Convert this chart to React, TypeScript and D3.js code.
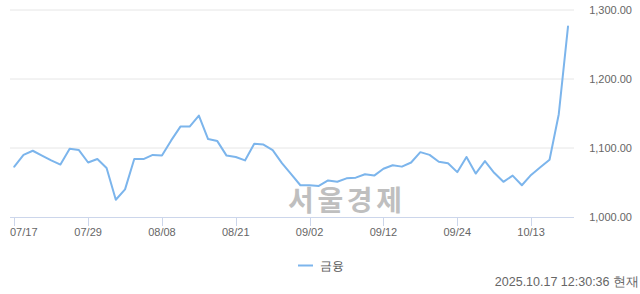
import React from "react";
import * as d3 from "d3";

const dates = [
  "07/17","07/18","07/21","07/22","07/23","07/24","07/25","07/28","07/29","07/30",
  "07/31","08/01","08/04","08/05","08/06","08/07","08/08","08/11","08/12","08/13",
  "08/14","08/18","08/19","08/20","08/21","08/22","08/25","08/26","08/27","08/28",
  "08/29","09/01","09/02","09/03","09/04","09/05","09/08","09/09","09/10","09/11",
  "09/12","09/15","09/16","09/17","09/18","09/19","09/22","09/23","09/24","09/25",
  "09/26","09/29","09/30","10/01","10/02","10/10","10/13","10/14","10/15","10/16","10/17",
];
const values = [
  1073,1090,1096,1089,1082,1076,1099,1097,1079,1084,
  1071,1025,1040,1084,1084,1090,1089,1111,1131,1131,
  1147,1113,1110,1089,1087,1082,1106,1105,1097,1078,
  1062,1046,1046,1045,1053,1051,1056,1057,1062,1060,
  1070,1075,1073,1079,1094,1090,1080,1078,1065,1087,
  1063,1081,1064,1051,1060,1046,1061,1072,1083,1149,1276,
];
const xTickLabels = ["07/17","07/29","08/08","08/21","09/02","09/12","09/24","10/13"];
const yTicks = [1000, 1100, 1200, 1300];
const seriesName = "금융";
const timestamp = "2025.10.17 12:30:36 현재";
const watermark = "서울경제";

export default function App() {
  const W = 640, H = 294;
  const left = 10, right = 574, top = 10, bottom = 217;
  const x = d3.scaleLinear().domain([0, dates.length - 1]).range([14.3, 568]);
  const y = d3.scaleLinear().domain([1000, 1300]).range([bottom, top]);
  const line = d3.line<number>().x((_, i) => x(i)).y((d) => y(d));
  const fmt = d3.format(",.2f");
  const font = "'Liberation Sans', Arial, sans-serif";
  return (
    <svg width={W} height={H} style={{ position: "absolute", left: 0, top: 0 }} fontFamily={font}>
      <rect width={W} height={H} fill="#fff" />
      {yTicks.map((t) => (
        <g key={t}>
          {t !== 1000 && (
            <line x1={left} x2={right} y1={y(t)} y2={y(t)} stroke="#e6e6e6" strokeWidth={1} />
          )}
          <text x={632} y={y(t)} dy="0.35em" textAnchor="end" fontSize={11} fill="#666">
            {fmt(t)}
          </text>
        </g>
      ))}
      <text x={288} y={211} fontSize={28} fontWeight="bold" fill="#bfbfbf"
        fontFamily="'Noto Sans CJK KR', sans-serif" textLength={114}>
        {watermark}
      </text>
      <line x1={left} x2={right} y1={bottom + 0.5} y2={bottom + 0.5} stroke="#ccd6eb" strokeWidth={1} />
      {xTickLabels.map((lab, k) => {
        const i = dates.indexOf(lab);
        const xi = Math.round(x(i)) + 0.5;
        const first = k === 0;
        return (
          <g key={lab}>
            <line x1={xi} x2={xi} y1={bottom} y2={bottom + 9} stroke="#ccd6eb" strokeWidth={1} />
            <text x={first ? left : x(i)} y={236} textAnchor={first ? "start" : "middle"}
              fontSize={11} fill="#666">{lab}</text>
          </g>
        );
      })}
      <path d={line(values) ?? ""} fill="none" stroke="#7cb5ec" strokeWidth={2}
        strokeLinejoin="round" strokeLinecap="round" />
      <line x1={298} x2={313} y1={265.5} y2={265.5} stroke="#7cb5ec" strokeWidth={2} />
      <text x={320} y={270} fontSize={12} fill="#555">{seriesName}</text>
      <text x={639} y={286} textAnchor="end" fontSize={12.5} fill="#666">{timestamp}</text>
    </svg>
  );
}
